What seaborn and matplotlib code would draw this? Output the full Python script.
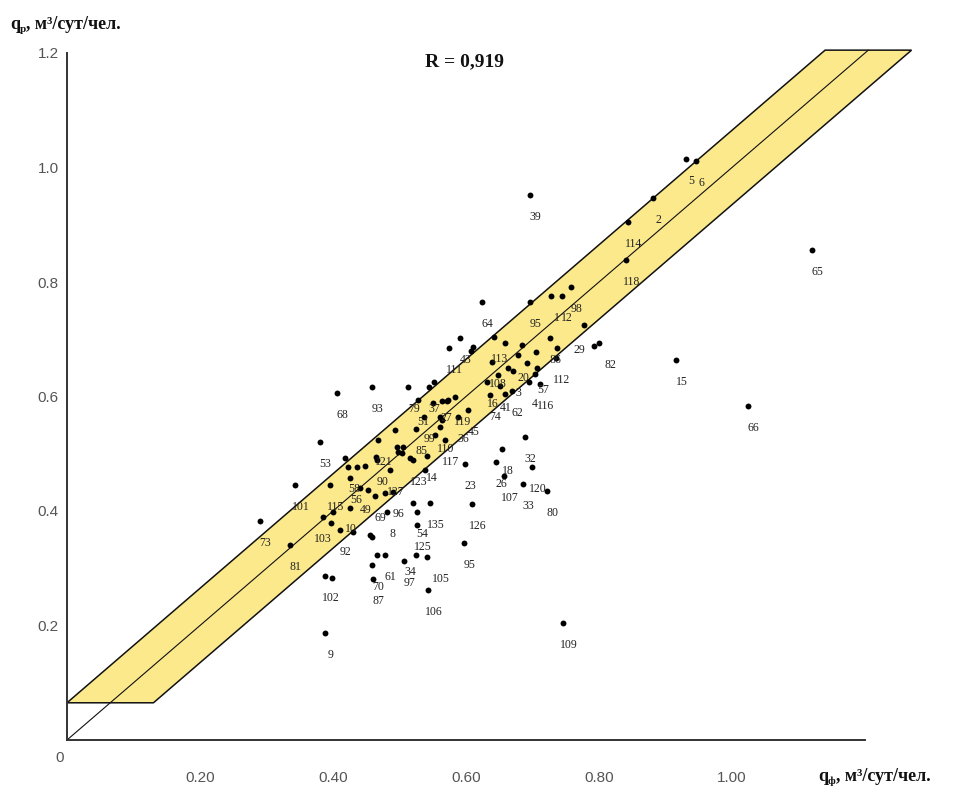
import numpy as np
import pandas as pd
import matplotlib
matplotlib.use("Agg")
import matplotlib.pyplot as plt
import seaborn as sns

# Actual (q_f) and calculated (q_r) specific water consumption, m3/day per person
q_fact = [
    0.931, 0.946, 0.881, 0.844, 0.841, 1.120, 0.696, 0.916, 1.024, 0.746,
    0.388, 0.800, 0.792, 0.758, 0.744, 0.728, 0.696, 0.624, 0.777, 0.591,
    0.574, 0.611, 0.608, 0.642, 0.659, 0.684, 0.726, 0.737, 0.705, 0.678,
    0.639, 0.692, 0.707, 0.663, 0.671, 0.704, 0.648, 0.632, 0.651, 0.669,
    0.695, 0.583, 0.573, 0.603, 0.561, 0.689, 0.654, 0.735, 0.711, 0.636,
    0.659, 0.406, 0.459, 0.513, 0.544, 0.552, 0.528, 0.380, 0.550, 0.564,
    0.571, 0.537, 0.525, 0.493, 0.468, 0.564, 0.561, 0.553, 0.588, 0.598,
    0.496, 0.498, 0.504, 0.465, 0.466, 0.448, 0.436, 0.423, 0.418, 0.520,
    0.516, 0.505, 0.541, 0.568, 0.343, 0.395, 0.426, 0.441, 0.453, 0.486,
    0.463, 0.490, 0.478, 0.520, 0.546, 0.481, 0.400, 0.426, 0.385, 0.397,
    0.411, 0.430, 0.456, 0.290, 0.335, 0.526, 0.526, 0.597, 0.459, 0.466,
    0.459, 0.478, 0.507, 0.525, 0.541, 0.388, 0.398, 0.460, 0.543, 0.609,
    0.645, 0.657, 0.686, 0.722, 0.699, 0.538,
]
q_calc = [
    1.015, 1.011, 0.947, 0.905, 0.838, 0.856, 0.952, 0.664, 0.583, 0.204,
    0.187, 0.693, 0.688, 0.791, 0.776, 0.776, 0.765, 0.765, 0.725, 0.702,
    0.685, 0.686, 0.679, 0.704, 0.693, 0.690, 0.702, 0.685, 0.678, 0.672,
    0.660, 0.659, 0.650, 0.650, 0.645, 0.639, 0.638, 0.625, 0.618, 0.610,
    0.625, 0.599, 0.594, 0.576, 0.564, 0.529, 0.508, 0.667, 0.622, 0.603,
    0.604, 0.606, 0.617, 0.617, 0.617, 0.625, 0.594, 0.521, 0.589, 0.592,
    0.592, 0.564, 0.543, 0.541, 0.524, 0.559, 0.547, 0.533, 0.564, 0.482,
    0.512, 0.503, 0.501, 0.494, 0.489, 0.479, 0.477, 0.477, 0.493, 0.489,
    0.493, 0.512, 0.496, 0.524, 0.445, 0.445, 0.458, 0.440, 0.437, 0.472,
    0.426, 0.433, 0.431, 0.414, 0.414, 0.398, 0.398, 0.405, 0.390, 0.379,
    0.367, 0.363, 0.358, 0.383, 0.341, 0.376, 0.398, 0.344, 0.355, 0.323,
    0.306, 0.323, 0.313, 0.323, 0.320, 0.286, 0.283, 0.281, 0.262, 0.412,
    0.486, 0.461, 0.447, 0.435, 0.477, 0.472,
]
point_ids = [
    "5", "6", "2", "114", "118", "65", "39", "15", "66", "109",
    "9", "82", "29", "98", "12", "1", "95", "64", "", "43",
    "111", "", "", "113", "", "", "86", "", "", "20",
    "108", "", "57", "", "3", "", "", "16", "41", "62",
    "4", "119", "", "45", "", "32", "18", "112", "116", "74",
    "", "68", "93", "79", "37", "", "51", "53", "", "",
    "27", "99", "85", "", "121", "", "110", "", "36", "23",
    "", "", "", "", "90", "", "", "58", "", "123",
    "", "", "14", "117", "101", "115", "56", "49", "", "127",
    "69", "96", "", "", "135", "8", "10", "", "103", "",
    "92", "", "", "73", "81", "125", "54", "95", "", "",
    "70", "61", "97", "34", "105", "102", "", "87", "106", "126",
    "26", "107", "33", "80", "120", "",
]

# Tolerance band around the line of equality
band_half = 0.065
band_top = 1.205
r_text = "R = 0,919"

x_ticks = [0.2, 0.4, 0.6, 0.8, 1.0, 1.2]
x_tick_labels = ["0.20", "0.40", "0.60", "0.80", "1.00", ""]
y_ticks = [0.2, 0.4, 0.6, 0.8, 1.0, 1.2]
y_tick_labels = ["0.2", "0.4", "0.6", "0.8", "1.0", "1.2"]

# Label placement tweaks (offset in points) for crowded spots
label_shift = {"29": (-10, -3), "82": (8, -16), "34": (-4, -12),
               "105": (10, -16), "27": (0, -12), "119": (6, -18),
               "10": (13, -12), "103": (0, -16)}

df = pd.DataFrame({"q_f": q_fact, "q_r": q_calc, "id": point_ids})

sns.set_style("white")
plt.rcParams["font.family"] = ["Liberation Sans", "DejaVu Sans"]

W, H = 954, 791
fig = plt.figure(figsize=(W / 100, H / 100), dpi=100)
ax = fig.add_axes([67 / W, 51 / H, 1.3 * 665 / W, 1.25 * 572.5 / H])
ax.set_xlim(0, 1.3)
ax.set_ylim(0, 1.25)

# Yellow band: y = x +/- band_half, cut by horizontal lines at bottom and top
d = band_half
band = np.array([
    [0.0, d],
    [2 * d, d],
    [band_top + d, band_top],
    [band_top - d, band_top],
])
ax.fill(band[:, 0], band[:, 1], facecolor="#fbe98c", edgecolor="#111111",
        linewidth=1.1, zorder=1)
ax.plot([0, band_top], [0, band_top], color="#111111", linewidth=0.8, zorder=2)

sns.scatterplot(data=df, x="q_f", y="q_r", ax=ax, color="black", s=18,
                linewidth=0, zorder=3, legend=False)

for xv, yv, lab in zip(df["q_f"], df["q_r"], df["id"]):
    if lab:
        ax.annotate(lab, (xv, yv), xytext=label_shift.get(lab, (4, -16)),
                    textcoords="offset points", ha="center", va="center",
                    fontsize=8.5, family="Liberation Serif", color="#222222",
                    zorder=4)

# Axes styling
for side in ("top", "right"):
    ax.spines[side].set_visible(False)
for side in ("left", "bottom"):
    ax.spines[side].set_color("#333333")
    ax.spines[side].set_linewidth(1.4)
ax.spines["bottom"].set_bounds(0, 1.2)
ax.spines["left"].set_bounds(0, 1.2)

ax.set_xticks(x_ticks)
ax.set_xticklabels(x_tick_labels)
ax.set_yticks(y_ticks)
ax.set_yticklabels(y_tick_labels)
ax.tick_params(axis="both", direction="inout", length=8, width=1.2,
               color="#333333", labelcolor="#555555", labelsize=11)
ax.tick_params(axis="x", pad=18)
ax.tick_params(axis="y", pad=2)
ax.set_xlabel("")
ax.set_ylabel("")

# Origin label
ax.annotate("0", (0, 0), xytext=(-5, -13), textcoords="offset points",
            ha="center", va="center", fontsize=11, color="#555555")

# Correlation coefficient
fig.text(465 / W, 1 - 62 / H, r_text, ha="center", va="center",
         fontsize=14, weight="bold", family="Liberation Serif", color="#111111")


def axis_title(x_px, y_px, sub):
    t = fig.text(x_px / W, 1 - y_px / H, "q", fontsize=13, weight="bold",
                 family="Liberation Serif", color="#111111", va="bottom",
                 ha="left")
    s = ax.annotate(sub, xy=(1, 0), xycoords=t, xytext=(0, -1),
                    textcoords="offset points", fontsize=8, weight="bold",
                    family="Liberation Serif", color="#111111",
                    va="bottom", ha="left")
    ax.annotate(", м\u00b3/сут/чел.", xy=(1, 0), xycoords=(s, t),
                fontsize=13, weight="bold", family="Liberation Serif",
                color="#111111", va="bottom", ha="left")


axis_title(10, 33, "р")
axis_title(818, 785, "ф")

fig.savefig("out.png", dpi=100, facecolor="white")
